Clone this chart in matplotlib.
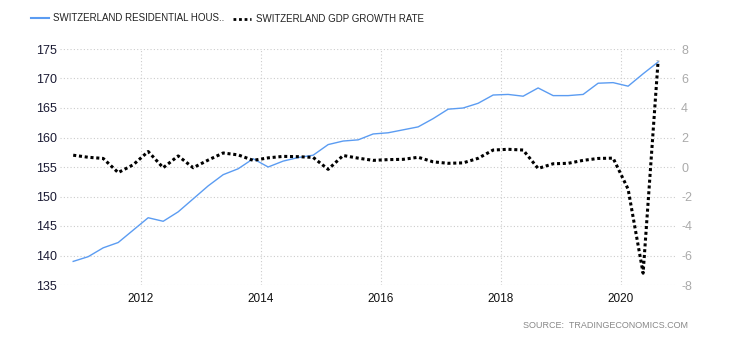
import matplotlib
matplotlib.use("Agg")
import matplotlib.pyplot as plt
from matplotlib.lines import Line2D

quarters = ["2010Q4",
            "2011Q1", "2011Q2", "2011Q3", "2011Q4",
            "2012Q1", "2012Q2", "2012Q3", "2012Q4",
            "2013Q1", "2013Q2", "2013Q3", "2013Q4",
            "2014Q1", "2014Q2", "2014Q3", "2014Q4",
            "2015Q1", "2015Q2", "2015Q3", "2015Q4",
            "2016Q1", "2016Q2", "2016Q3", "2016Q4",
            "2017Q1", "2017Q2", "2017Q3", "2017Q4",
            "2018Q1", "2018Q2", "2018Q3", "2018Q4",
            "2019Q1", "2019Q2", "2019Q3", "2019Q4",
            "2020Q1", "2020Q2", "2020Q3"]

housing_index = [139.0,
                 139.8, 141.3, 142.2, 144.3,
                 146.4, 145.8, 147.4, 149.6,
                 151.8, 153.7, 154.7, 156.4,
                 155.0, 156.0, 156.6, 157.0,
                 158.8, 159.4, 159.6, 160.6,
                 160.8, 161.3, 161.8, 163.2,
                 164.8, 165.0, 165.8, 167.2,
                 167.3, 167.0, 168.4, 167.1,
                 167.1, 167.3, 169.2, 169.3,
                 168.7, 170.8, 172.8]

gdp_growth = [0.80,
              0.66, 0.58, -0.38, 0.15,
              1.05, -0.05, 0.75, -0.05,
              0.47, 0.95, 0.82, 0.45,
              0.62, 0.72, 0.70, 0.65,
              -0.16, 0.78, 0.60, 0.45,
              0.50, 0.52, 0.66, 0.35,
              0.25, 0.28, 0.59, 1.15,
              1.20, 1.15, -0.10, 0.22,
              0.25, 0.45, 0.58, 0.60,
              -1.50, -7.20, 7.20]

left_ticks = [135, 140, 145, 150, 155, 160, 165, 170, 175]
right_ticks = [-8, -6, -4, -2, 0, 2, 4, 6, 8]
year_ticks = [2012, 2014, 2016, 2018, 2020]

legend_labels = ["SWITZERLAND RESIDENTIAL HOUS..", "SWITZERLAND GDP GROWTH RATE"]
source_text = "SOURCE:  TRADINGECONOMICS.COM"

x = [int(q[:4]) + (int(q[5]) - 0.5) / 4 for q in quarters]

plt.rcParams['font.family'] = ['Liberation Sans', 'DejaVu Sans']
plt.rcParams['axes.unicode_minus'] = False

W, H = 730, 340
fig = plt.figure(figsize=(W / 100, H / 100), dpi=100)
ax = fig.add_axes([60 / W, (H - 285) / H, (677 - 60) / W, 236 / H])
ax2 = ax.twinx()

blue = "#5b9cf2"
ax.plot(x, housing_index, color=blue, lw=1.0, zorder=3)
ax2.plot(x, gdp_growth, color="black", lw=2.2, linestyle=(0, (1, 0.9)), zorder=3)

ax.set_ylim(135, 175)
ax2.set_ylim(-8, 8)
ax.set_xlim(2010.655, 2020.94)
ax.set_yticks(left_ticks)
ax2.set_yticks(right_ticks)
ax.set_xticks(year_ticks)
ax.set_xticklabels([str(y) for y in year_ticks])

ax.grid(True, color="#cccccc", linestyle=(0, (1, 2)), lw=0.8)
ax.set_axisbelow(True)
for a in (ax, ax2):
    for s in a.spines.values():
        s.set_visible(False)
ax.tick_params(axis='y', length=0, pad=2, labelsize=9, labelcolor="#1a1a33")
ax.tick_params(axis='x', length=0, pad=6, labelsize=8.5, labelcolor="#111111")
ax2.tick_params(axis='y', length=0, pad=3, labelsize=9, labelcolor="#aaaaaa")

# legend
fig.add_artist(Line2D([31 / W, 49 / W], [1 - 18 / H, 1 - 18 / H], color=blue, lw=1.5))
fig.text(53 / W, 1 - 18 / H, legend_labels[0], fontsize=7, color="#222222", va="center")
fig.add_artist(Line2D([233 / W, 251 / W], [1 - 19 / H, 1 - 19 / H], color="black", lw=2.0,
                      linestyle=(0, (1, 1))))
fig.text(256 / W, 1 - 19 / H, legend_labels[1], fontsize=7, color="#222222", va="center")

fig.text(688 / W, 1 - 325 / H, source_text, fontsize=6.5, color="#888888", ha="right", va="center")

fig.savefig("out.png", dpi=100)
